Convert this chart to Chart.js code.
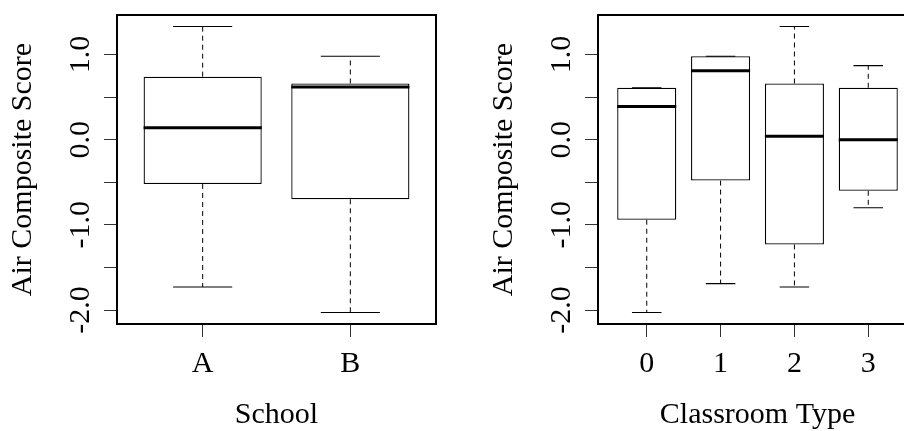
<!DOCTYPE html>
<html>
<head>
<meta charset="utf-8">
<script src="https://cdn.jsdelivr.net/npm/chart.js@4/dist/chart.umd.min.js"></script>
<style>
  html, body { margin: 0; padding: 0; background: #fff; overflow: hidden; width: 904px; height: 431px; }
  canvas { position: absolute; top: 0; }
  #schoolChart { left: 0; }
  #typeChart { left: 481px; }
</style>
</head>
<body>
<canvas id="schoolChart" width="481" height="431"></canvas>
<canvas id="typeChart" width="481" height="431"></canvas>
<script>
// Five-number summaries of the air composite score
const schoolLabels = ['A', 'B'];
const schoolLow  = [-1.73, -2.03];
const schoolQ1   = [-0.52, -0.70];
const schoolMed  = [0.14, 0.62];
const schoolQ3   = [0.74, 0.66];
const schoolHigh = [1.33, 0.98];

const typeLabels = ['0', '1', '2', '3'];
const typeLow  = [-2.03, -1.69, -1.73, -0.80];
const typeQ1   = [-0.94, -0.48, -1.23, -0.60];
const typeMed  = [0.39, 0.81, 0.04, 0.00];
const typeQ3   = [0.61, 0.98, 0.66, 0.61];
const typeHigh = [0.61, 0.98, 1.33, 0.87];

const yTickValues = [-2, -1.5, -1, -0.5, 0, 0.5, 1];
const yTickLabels = ['-2.0', '', '-1.0', '', '0.0', '', '1.0'];

const SERIF = "'Liberation Serif', 'Times New Roman', serif";
const FONT_SIZE = 30;
const BOX_HALF = 0.4;     // half box width in category units
const CAP_HALF = 0.2;     // half staple width

// Frame around the plotting region and rotated y tick labels
const framePlugin = {
  id: 'frame',
  afterDraw(chart) {
    const { ctx, chartArea: a } = chart;
    const y = chart.scales.y;
    ctx.save();
    ctx.strokeStyle = '#000';
    ctx.lineWidth = 2;
    ctx.strokeRect(a.left, a.top, a.right - a.left, a.bottom - a.top);
    ctx.fillStyle = '#000';
    ctx.font = FONT_SIZE + 'px ' + SERIF;
    ctx.textAlign = 'center';
    ctx.textBaseline = 'alphabetic';
    yTickValues.forEach((v, i) => {
      if (!yTickLabels[i]) return;
      ctx.save();
      ctx.translate(a.left - 28, y.getPixelForValue(v));
      ctx.rotate(-Math.PI / 2);
      ctx.fillText(yTickLabels[i], 0, 0);
      ctx.restore();
    });
    ctx.restore();
  }
};

function boxplot(canvasId, labels, low, q1, med, q3, high, xTitle) {
  const lo = Math.min(...low), hi = Math.max(...high);
  const ypad = 0.04 * (hi - lo);
  const n = labels.length;
  const xpad = 0.04 * n;

  const boxes = labels.map((_, i) => ({ x: i + 1, y: [q1[i], q3[i]] }));
  const medians = [], whiskers = [], caps = [];
  labels.forEach((_, i) => {
    const c = i + 1;
    medians.push({ x: c - BOX_HALF, y: med[i] }, { x: c + BOX_HALF, y: med[i] }, { x: c, y: null });
    whiskers.push({ x: c, y: q3[i] }, { x: c, y: high[i] }, { x: c, y: null },
                  { x: c, y: q1[i] }, { x: c, y: low[i] }, { x: c, y: null });
    caps.push({ x: c - CAP_HALF, y: high[i] }, { x: c + CAP_HALF, y: high[i] }, { x: c, y: null },
              { x: c - CAP_HALF, y: low[i] }, { x: c + CAP_HALF, y: low[i] }, { x: c, y: null });
  });

  const lineBase = { type: 'line', pointRadius: 0, borderColor: '#000', tension: 0, spanGaps: false, fill: false };

  return new Chart(document.getElementById(canvasId), {
    type: 'bar',
    data: {
      datasets: [
        { ...lineBase, data: medians, borderWidth: 3, borderCapStyle: 'butt', order: 0 },
        { type: 'bar', data: boxes, backgroundColor: '#fff', borderColor: '#000', borderWidth: 1.3,
          borderSkipped: false, barPercentage: 0.8, categoryPercentage: 1, order: 1 },
        { ...lineBase, data: caps, borderWidth: 1.1, order: 2 },
        { ...lineBase, data: whiskers, borderWidth: 1, borderDash: [5, 4], order: 3 }
      ]
    },
    options: {
      responsive: false,
      devicePixelRatio: 1,
      animation: false,
      events: [],
      layout: { padding: { top: 15, right: 45, left: 0, bottom: 0 } },
      plugins: { legend: { display: false }, tooltip: { enabled: false } },
      scales: {
        x: {
          type: 'linear',
          offset: false,
          min: 0.5 - xpad,
          max: n + 0.5 + xpad,
          afterBuildTicks: s => { s.ticks = labels.map((_, i) => ({ value: i + 1 })); },
          afterFit: s => { s.height = 107; },
          ticks: {
            callback: v => labels[Math.round(v) - 1],
            font: { family: SERIF, size: FONT_SIZE },
            color: '#000',
            padding: 9,
            maxRotation: 0,
            autoSkip: false
          },
          grid: { drawOnChartArea: false, drawTicks: true, tickLength: 13, color: '#333', offset: false },
          border: { display: false },
          title: { display: true, text: xTitle, color: '#000',
                   font: { family: SERIF, size: FONT_SIZE }, padding: { top: 0, bottom: -2 } }
        },
        y: {
          type: 'linear',
          min: lo - ypad,
          max: hi + ypad,
          afterBuildTicks: s => { s.ticks = yTickValues.map(v => ({ value: v })); },
          afterFit: s => { s.width = 117; },
          ticks: { display: false },
          grid: { drawOnChartArea: false, drawTicks: true, tickLength: 13, color: '#333' },
          border: { display: false },
          title: { display: true, text: 'Air Composite Score', color: '#000',
                   font: { family: SERIF, size: FONT_SIZE }, padding: { top: 5, bottom: 0 } }
        }
      }
    },
    plugins: [framePlugin]
  });
}

boxplot('schoolChart', schoolLabels, schoolLow, schoolQ1, schoolMed, schoolQ3, schoolHigh, 'School');
boxplot('typeChart', typeLabels, typeLow, typeQ1, typeMed, typeQ3, typeHigh, 'Classroom Type');
</script>
</body>
</html>
